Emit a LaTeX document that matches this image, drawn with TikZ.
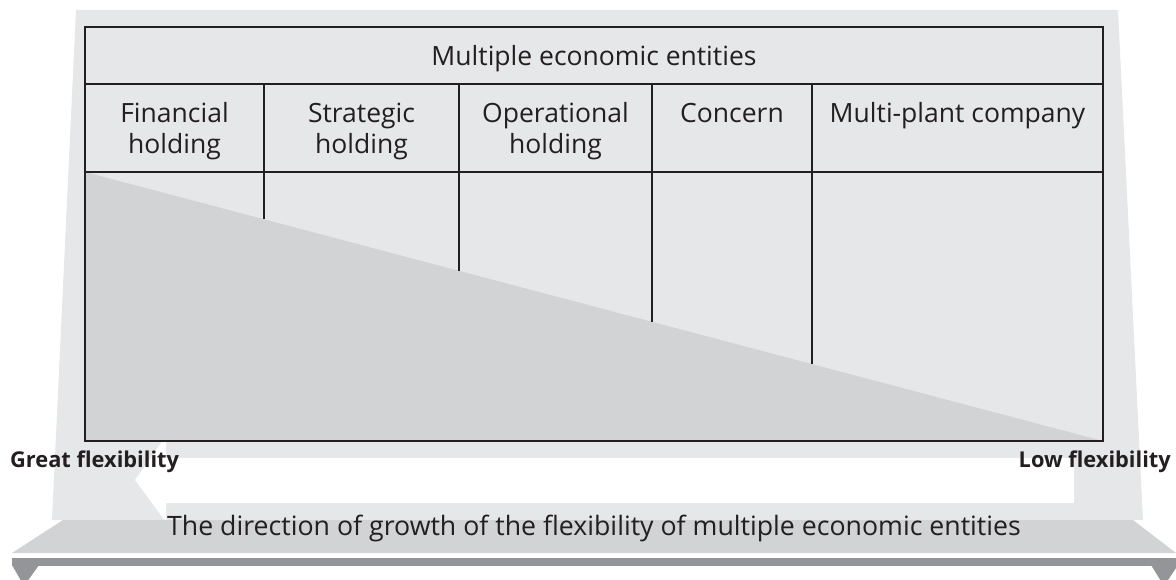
\documentclass[tikz,border=0pt]{standalone}
\usepackage{fontspec}
\setmainfont{Open Sans}
\definecolor{bglight}{HTML}{E6E7E8}
\definecolor{midgray}{HTML}{D1D3D4}
\definecolor{darkbar}{HTML}{939598}
\definecolor{ink}{HTML}{231F20}
\begin{document}
\begin{tikzpicture}[x=1pt,y=-1pt,
  hdr/.style={anchor=base, inner sep=0pt, text=ink, font=\fontsize{26.5}{30}\selectfont},
  lbl/.style={inner sep=0pt, text=ink, font=\fontsize{21.8}{25}\selectfont\bfseries},
  foot/.style={anchor=base, inner sep=0pt, text=ink, font=\fontsize{26.7}{30}\selectfont},
  thick rule/.style={draw=ink, line width=2.5pt},
  thin rule/.style={draw=ink, line width=1.3pt}]
\useasboundingbox (0,0) rectangle (1176,580);
\clip (0,0) rectangle (1176,580);
% background frame
\fill[bglight] (76,10) -- (1118,10) -- (1143,520) -- (52,520) -- cycle;
% white arrow pointing left
\fill[white] (135,480) -- (166,436) -- (166,458) -- (1074,458) -- (1074,503) -- (166,503) -- (166,522) -- cycle;
% base trapezoid
\fill[midgray] (63,520) -- (1133,520) -- (1176,553) -- (12,553) -- cycle;
% dark bar with feet
\fill[darkbar] (12,558) rectangle (1176,566);
\fill[darkbar] (12,565) -- (39,565) -- (24,586) -- cycle;
\fill[darkbar] (1151,565) -- (1178,565) -- (1164,586) -- cycle;
% table
\fill[bglight] (85,27) rectangle (1103,441);
\fill[midgray] (85,172) -- (1103,441) -- (85,441) -- cycle;
\draw[thin rule] (85,84) -- (1103,84);
\draw[thin rule] (264,84) -- (264,219.3);
\draw[thin rule] (459,84) -- (459,270.8);
\draw[thin rule] (652,84) -- (652,321.8);
\draw[thin rule] (812,84) -- (812,364.1);
\draw[draw=ink, line width=1.6pt] (85,27) -- (85,441);
\draw[draw=ink, line width=1.6pt] (1103,27) -- (1103,441);
\draw[thick rule] (84.2,27) -- (1103.8,27);
\draw[draw=ink, line width=2.2pt] (84.2,172) -- (1103.8,172);
\draw[thick rule] (84.2,441) -- (1103.8,441);
% texts
\node[hdr] (title) at (594,66) {Multiple economic entities};
\node[hdr] (c1a) at (174.5,123) {Financial};
\node[hdr] (c1b) at (174.5,154) {holding};
\node[hdr] (c2a) at (361.5,123) {Strategic};
\node[hdr] (c2b) at (361.5,154) {holding};
\node[hdr] (c3a) at (555.5,123) {Operational};
\node[hdr] (c3b) at (555.5,154) {holding};
\node[hdr] (c4) at (732,123) {Concern};
\node[hdr] (c5) at (957.5,123) {Multi-plant company};
\node[lbl, anchor=base west] (great) at (10,467) {Great flexibility};
\node[lbl, anchor=base east] (low) at (1171,467) {Low flexibility};
\node[foot] (dir) at (594,535) {The direction of growth of the flexibility of multiple economic entities};
\end{tikzpicture}
\end{document}
